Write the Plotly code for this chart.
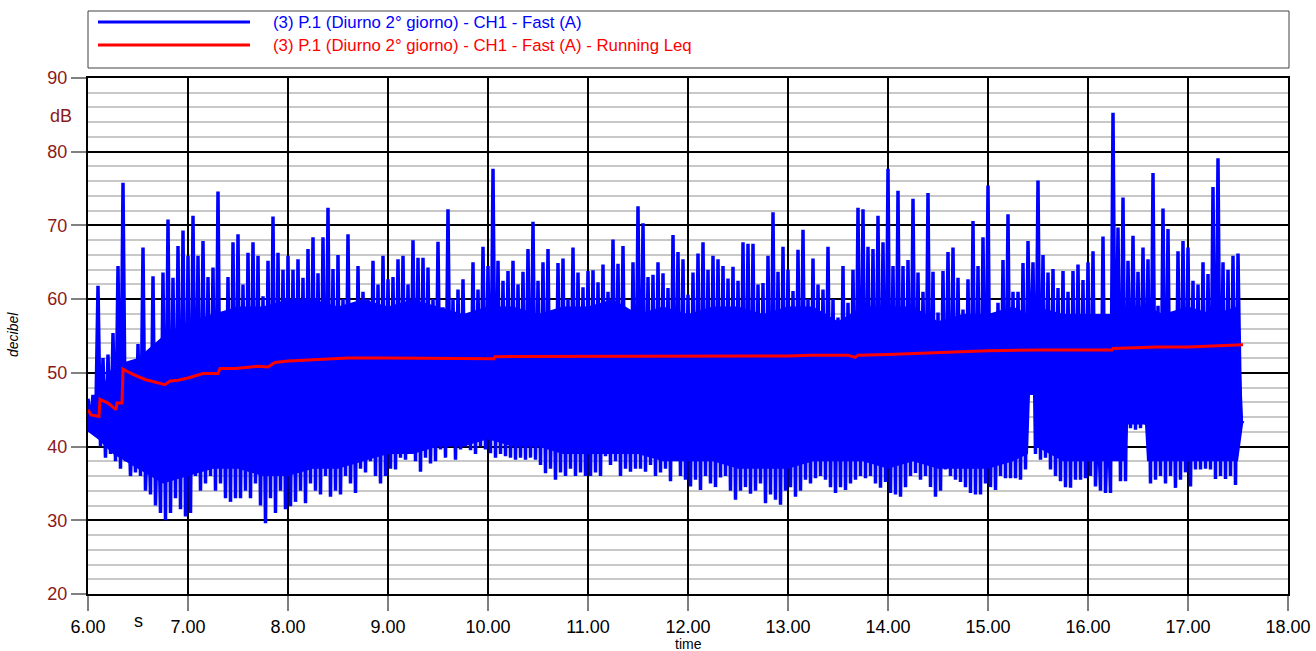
import plotly.graph_objects as go

# ---------------- data ----------------
t_start = 6.00      # s
t_step = 0.05       # s between successive peaks
# local peaks (dB) at t_start + i*t_step
highs = [
    46.5, 47.0, 61.8, 52.0, 52.5, 55.4, 64.5, 75.8, 47.0, 45.0,
    53.9, 67.0, 46.0, 63.1, 48.0, 63.6, 70.8, 62.9, 67.2, 69.3,
    65.9, 71.3, 65.9, 67.9, 63.0, 64.3, 74.6, 58.2, 63.0, 67.7,
    68.8, 62.0, 66.3, 67.7, 65.9, 60.4, 65.2, 71.2, 66.3, 64.0,
    65.9, 64.0, 65.4, 62.9, 66.8, 68.4, 63.5, 68.4, 72.4, 64.1,
    66.0, 60.0, 68.8, 55.0, 64.5, 61.0, 60.0, 65.2, 62.0, 65.9,
    62.7, 63.0, 65.4, 65.9, 62.0, 68.0, 65.6, 65.6, 64.3, 60.0,
    67.8, 58.9, 72.2, 60.0, 61.3, 62.7, 58.0, 65.0, 61.3, 67.1,
    64.5, 77.7, 65.2, 62.5, 63.8, 65.2, 62.0, 63.7, 66.8, 70.5,
    62.5, 65.0, 66.8, 58.0, 64.9, 65.5, 60.0, 67.0, 63.6, 61.6,
    63.8, 63.9, 62.3, 64.7, 61.0, 68.1, 64.8, 67.2, 54.0, 65.0,
    72.6, 70.3, 63.0, 63.3, 65.0, 63.5, 61.5, 68.7, 66.4, 65.4,
    60.6, 63.6, 66.2, 67.7, 64.0, 65.9, 65.4, 64.5, 62.8, 64.4,
    62.5, 67.7, 67.5, 67.5, 62.0, 62.2, 65.9, 71.8, 63.7, 67.1,
    64.0, 61.1, 66.7, 69.4, 60.0, 65.5, 62.0, 61.3, 67.1, 60.0,
    57.5, 64.5, 59.5, 64.0, 72.4, 72.2, 67.1, 66.8, 71.3, 67.7,
    77.7, 64.5, 74.7, 64.5, 65.3, 73.6, 63.6, 61.0, 74.4, 63.7,
    58.2, 63.8, 66.4, 67.0, 62.9, 58.6, 62.7, 70.6, 64.5, 68.4,
    75.4, 57.3, 59.5, 65.3, 71.5, 61.0, 61.0, 64.9, 67.9, 65.0,
    76.1, 66.0, 63.6, 64.1, 61.5, 63.8, 61.0, 63.8, 64.7, 62.6,
    65.0, 66.5, 45.5, 68.5, 46.0, 85.3, 69.7, 73.8, 65.2, 68.6,
    63.7, 67.0, 65.4, 77.1, 59.1, 72.3, 69.5, 56.0, 66.5, 67.9,
    67.0, 62.5, 62.0, 65.0, 63.4, 75.2, 79.1, 65.0, 64.0, 65.9, 66.2,
]
# local troughs (dB) half a step after each peak
lows = [
    43.0, 41.5, 40.0, 38.5, 39.0, 38.0, 37.0, 38.0, 36.0, 36.5,
    36.0, 34.0, 33.5, 32.0, 31.0, 30.0, 31.0, 33.0, 31.5, 30.5,
    31.0, 36.0, 34.0, 35.0, 36.0, 34.0, 35.0, 33.0, 32.5, 33.0,
    33.0, 34.0, 33.0, 35.0, 32.0, 29.6, 33.0, 31.0, 34.0, 31.5,
    31.9, 32.5, 34.0, 32.3, 35.0, 34.0, 33.5, 36.0, 33.2, 34.0,
    33.5, 36.0, 35.0, 33.7, 37.0, 36.5, 38.0, 36.0, 35.0, 36.0,
    37.0, 36.9, 38.5, 38.2, 39.0, 38.0, 36.6, 38.5, 37.7, 38.0,
    39.6, 38.5, 40.0, 38.2, 39.6, 40.0, 39.5, 39.0, 40.0, 39.6,
    39.1, 38.5, 39.0, 38.7, 38.5, 38.2, 38.5, 38.2, 38.5, 38.2,
    37.5, 36.4, 37.0, 35.5, 36.5, 36.0, 37.0, 36.0, 36.5, 36.0,
    36.0, 36.5, 36.0, 38.7, 37.5, 38.0, 36.0, 37.0, 36.6, 37.0,
    37.0, 36.6, 37.5, 36.0, 36.5, 37.0, 35.3, 38.2, 36.0, 35.5,
    34.6, 35.5, 34.1, 36.0, 35.0, 34.5, 35.8, 36.0, 34.0, 32.8,
    34.0, 34.5, 33.6, 34.0, 35.0, 32.3, 33.5, 32.8, 32.1, 34.0,
    34.5, 33.2, 34.0, 35.5, 35.0, 35.7, 36.0, 35.5, 34.5, 33.7,
    34.5, 34.1, 35.0, 35.5, 36.0, 35.7, 36.0, 35.0, 34.4, 35.2,
    33.7, 33.5, 33.2, 34.5, 36.0, 36.4, 35.5, 36.0, 34.5, 33.2,
    34.0, 36.9, 36.0, 35.5, 35.2, 34.5, 33.7, 33.5, 33.5, 35.0,
    34.5, 34.1, 36.0, 35.7, 35.7, 35.7, 35.5, 36.9, 48.0, 39.0,
    38.2, 38.5, 36.9, 36.0, 35.3, 34.5, 34.4, 35.5, 35.5, 35.7,
    36.0, 34.6, 34.0, 33.7, 33.7, 40.0, 35.3, 35.3, 42.5, 42.3,
    42.5, 43.0, 35.0, 35.5, 36.0, 35.0, 36.0, 34.4, 35.5, 36.5,
    34.6, 36.9, 36.9, 37.0, 36.9, 35.6, 36.0, 35.6, 36.0, 34.8, 43.0,
]
end_t = 17.55
end_v = 43.5

# dense core of the Fast(A) signal (solidly filled band in the reference)
core_t = [6.00, 6.10, 6.25, 6.50, 6.75, 7.00, 7.25, 7.50, 7.75, 8.00,
          8.25, 8.50, 8.75, 9.00, 9.25, 9.50, 9.75, 10.00, 10.25, 10.50,
          10.75, 11.00, 11.25, 11.50, 11.75, 12.00, 12.25, 12.50, 12.75, 13.00,
          13.25, 13.50, 13.75, 14.00, 14.25, 14.50, 14.75, 15.00, 15.25, 15.40,
          15.42, 15.46, 15.48, 15.75, 16.00, 16.25, 16.38, 16.40, 16.57, 16.59,
          16.75, 17.00, 17.25, 17.50, 17.55]
core_lo = [42, 41, 39, 37, 35, 36, 37, 37, 36, 36,
           37, 37, 38, 39, 39, 40, 40, 41, 40, 40,
           39, 39, 39, 39, 38, 38, 38, 37, 37, 37,
           38, 38, 38, 37, 38, 37, 37, 37, 38, 39,
           47, 47, 40, 38, 38, 38, 38, 43, 43, 38,
           38, 38, 38, 38, 43]
core_hi = [45, 47, 51, 52, 55, 57, 58, 59, 59, 60,
           60, 59, 60, 59, 60, 59, 58, 59, 59, 58,
           59, 59, 60, 58, 59, 58, 59, 59, 58, 59,
           59, 57, 59, 59, 59, 57, 58, 58, 59, 58,
           58, 58, 59, 58, 58, 58, 59, 59, 59, 59,
           58, 59, 58, 59, 44]

# running Leq
leq_t = [6.00, 6.03, 6.11, 6.12, 6.20, 6.28, 6.29, 6.34, 6.35, 6.45,
         6.57, 6.77, 6.82, 6.90, 7.00, 7.07, 7.15, 7.30, 7.32, 7.47,
         7.70, 7.80, 7.87, 8.00, 8.40, 8.60, 9.00, 9.60, 10.00, 10.06,
         10.07, 11.00, 12.00, 12.50, 13.00, 13.23, 13.60, 13.67, 13.70, 14.00,
         14.60, 15.00, 15.50, 16.00, 16.24, 16.25, 16.70, 17.00, 17.30, 17.55]
leq_v = [45.0, 44.3, 44.1, 46.4, 45.9, 45.0, 45.9, 45.9, 50.5, 49.8,
         49.1, 48.4, 48.9, 49.0, 49.3, 49.6, 49.9, 49.9, 50.6, 50.6,
         50.9, 50.8, 51.4, 51.6, 51.9, 52.0, 52.0, 52.0, 51.9, 51.9,
         52.2, 52.2, 52.3, 52.3, 52.3, 52.4, 52.4, 52.1, 52.4, 52.5,
         52.8, 53.0, 53.1, 53.1, 53.1, 53.3, 53.5, 53.5, 53.7, 53.8]

name_fast = "(3) P.1 (Diurno 2° giorno) - CH1 - Fast (A)"
name_leq = "(3) P.1 (Diurno 2° giorno) - CH1 - Fast (A) - Running Leq"
y_ticks = [20, 30, 40, 50, 60, 70, 80, 90]
x_ticks = [6, 7, 8, 9, 10, 11, 12, 13, 14, 15, 16, 17, 18]

# ---------------- build series ----------------
bx, by = [], []
for i, (h, l) in enumerate(zip(highs, lows)):
    t = t_start + i * t_step
    bx += [t, t + t_step / 2]
    by += [h, l]
bx.append(end_t)
by.append(end_v)

FONT = "Liberation Sans, Arial, sans-serif"
DARKRED = "#8B1A1A"
BLUE = "#0000FF"

fig = go.Figure()
fig.add_trace(go.Scatter(x=core_t, y=core_lo, mode="lines", line=dict(width=0, color=BLUE),
                         showlegend=False, hoverinfo="skip"))
fig.add_trace(go.Scatter(x=core_t, y=core_hi, mode="lines", line=dict(width=0, color=BLUE),
                         fill="tonexty", fillcolor=BLUE, showlegend=False, hoverinfo="skip"))
fig.add_trace(go.Scatter(x=bx, y=by, mode="lines", name=name_fast,
                         line=dict(color=BLUE, width=3.5), showlegend=False))
fig.add_trace(go.Scatter(x=leq_t, y=leq_v, mode="lines", name=name_leq,
                         line=dict(color="#FF0000", width=3), showlegend=False))

W, H = 1316, 651
L, R, T, B = 88, 28, 78, 57
pw, ph = W - L - R, H - T - B


def px(x):
    return (x - L) / pw


def py(y):
    return (H - B - y) / ph


fig.update_layout(
    width=W, height=H,
    margin=dict(l=L, r=R, t=T, b=B, autoexpand=False),
    paper_bgcolor="white", plot_bgcolor="white",
    font=dict(family=FONT, size=18, color="black"),
    showlegend=False,
    xaxis=dict(range=[6, 18], tickvals=x_ticks, tickformat=".2f", automargin=False,
               showgrid=True, gridcolor="black", gridwidth=2,
               showline=True, linecolor="black", linewidth=2, mirror=True,
               ticks="outside", ticklen=15, tickwidth=2, tickcolor="#808080",
               tickfont=dict(size=18, color="black"), zeroline=False),
    yaxis=dict(range=[20, 90], tickvals=y_ticks, automargin=False,
               showgrid=True, gridcolor="black", gridwidth=2,
               minor=dict(dtick=2, showgrid=True, gridcolor="#C8C8C8", gridwidth=2, ticks=""),
               showline=True, linecolor="black", linewidth=2, mirror=True,
               ticks="outside", ticklen=15, tickwidth=2, tickcolor="#808080",
               tickfont=dict(size=18, color=DARKRED), zeroline=False),
)

# legend box drawn manually
fig.add_shape(type="rect", xref="paper", yref="paper",
              x0=px(88), x1=px(1289), y0=py(68), y1=py(11),
              line=dict(color="#404040", width=1), fillcolor="white", layer="above")
for yy, col, txt in [(22, BLUE, name_fast), (45, "#FF0000", name_leq)]:
    fig.add_shape(type="line", xref="paper", yref="paper",
                  x0=px(98), x1=px(250), y0=py(yy), y1=py(yy),
                  line=dict(color=col, width=3), layer="above")
    fig.add_annotation(xref="paper", yref="paper", x=px(271), y=py(yy),
                       xanchor="left", yanchor="middle", text=txt, showarrow=False,
                       font=dict(family=FONT, size=16.8, color=col))

fig.add_annotation(xref="paper", yref="paper", x=px(74), y=py(116),
                   xanchor="right", yanchor="middle", text="dB", showarrow=False,
                   font=dict(family=FONT, size=18, color=DARKRED))
fig.add_annotation(xref="paper", yref="paper", x=px(138), y=py(621),
                   xanchor="center", yanchor="middle", text="s", showarrow=False,
                   font=dict(family=FONT, size=18, color="black"))
fig.add_annotation(xref="paper", yref="paper", x=px(13), y=py(335),
                   xanchor="center", yanchor="middle", text="<i>decibel</i>", showarrow=False,
                   textangle=-90, font=dict(family=FONT, size=14, color="black"))
fig.add_annotation(xref="paper", yref="paper", x=px(688), y=py(644),
                   xanchor="center", yanchor="middle", text="time", showarrow=False,
                   font=dict(family=FONT, size=14, color="black"))

fig.write_html("out.html", config={"displayModeBar": False},
               post_script="document.body.style.margin='0px';")
